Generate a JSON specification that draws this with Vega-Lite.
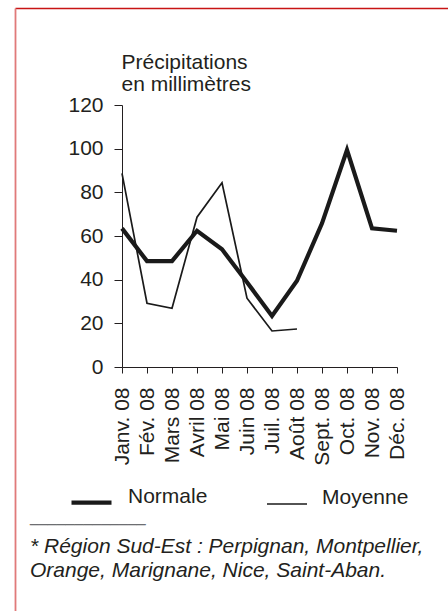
{
  "$schema": "https://vega.github.io/schema/vega-lite/v6.json",
  "width": 433,
  "height": 603,
  "autosize": {"type": "none"},
  "padding": {"left": 15, "top": 8, "right": 0, "bottom": 0},
  "background": "white",
  "config": {
    "view": {"stroke": null},
    "font": "Liberation Sans",
    "axis": {
      "domainColor": "#231f20",
      "tickColor": "#231f20",
      "labelColor": "#231f20",
      "titleColor": "#231f20",
      "labelFont": "Liberation Sans",
      "titleFont": "Liberation Sans",
      "labelFontSize": 21,
      "grid": false,
      "domainWidth": 1,
      "tickWidth": 1
    }
  },
  "datasets": {
    "pluie": [
      {"mois": "Janv. 08", "serie": "Normale", "mm": 63.5},
      {"mois": "Fév. 08", "serie": "Normale", "mm": 48.5},
      {"mois": "Mars 08", "serie": "Normale", "mm": 48.5},
      {"mois": "Avril 08", "serie": "Normale", "mm": 62.4},
      {"mois": "Mai 08", "serie": "Normale", "mm": 53.9},
      {"mois": "Juin 08", "serie": "Normale", "mm": 38.8},
      {"mois": "Juil. 08", "serie": "Normale", "mm": 23.4},
      {"mois": "Août 08", "serie": "Normale", "mm": 39.5},
      {"mois": "Sept. 08", "serie": "Normale", "mm": 65.8},
      {"mois": "Oct. 08", "serie": "Normale", "mm": 99.4},
      {"mois": "Nov. 08", "serie": "Normale", "mm": 63.5},
      {"mois": "Déc. 08", "serie": "Normale", "mm": 62.4},
      {"mois": "Janv. 08", "serie": "Moyenne", "mm": 88.7},
      {"mois": "Fév. 08", "serie": "Moyenne", "mm": 29.2},
      {"mois": "Mars 08", "serie": "Moyenne", "mm": 26.9},
      {"mois": "Avril 08", "serie": "Moyenne", "mm": 68.6},
      {"mois": "Mai 08", "serie": "Moyenne", "mm": 84.4},
      {"mois": "Juin 08", "serie": "Moyenne", "mm": 31.5},
      {"mois": "Juil. 08", "serie": "Moyenne", "mm": 16.5},
      {"mois": "Août 08", "serie": "Moyenne", "mm": 17.4}
    ],
    "notes": [
      {"note": "* Région Sud-Est : Perpignan, Montpellier,\nOrange, Marignane, Nice, Saint-Aban."}
    ],
    "filet": [
      {"trait": "_____________"}
    ],
    "cadre": [
      {"a": 0, "b": 0}
    ]
  },
  "layer": [
    {
      "layer": [
        {
          "data": {"name": "pluie"},
          "mark": {"type": "line", "color": "#1a1a1a", "strokeJoin": "miter"},
          "encoding": {
            "x": {
              "field": "mois",
              "type": "ordinal",
              "sort": null,
              "scale": {
                "type": "point",
                "domain": ["Janv. 08", "Fév. 08", "Mars 08", "Avril 08", "Mai 08", "Juin 08", "Juil. 08", "Août 08", "Sept. 08", "Oct. 08", "Nov. 08", "Déc. 08"],
                "range": [107, 382],
                "padding": 0
              },
              "axis": {
                "orient": "bottom",
                "offset": -244,
                "title": null,
                "tickSize": 6,
                "labelPadding": 14,
                "labelAngle": -90
              }
            },
            "y": {
              "field": "mm",
              "type": "quantitative",
              "scale": {"domain": [0, 120], "range": [359, 97], "nice": false, "zero": false},
              "axis": {
                "orient": "left",
                "offset": -107,
                "values": [0, 20, 40, 60, 80, 100, 120],
                "tickSize": 8,
                "labelPadding": 11,
                "title": ["Précipitations", "en millimètres"],
                "titleAngle": 0,
                "titleAlign": "left",
                "titleBaseline": "alphabetic",
                "titleFontSize": 21,
                "titleFontWeight": "normal",
                "titleLineHeight": 22,
                "titleX": -1,
                "titleY": 60
              }
            },
            "strokeWidth": {
              "field": "serie",
              "type": "nominal",
              "scale": {"type": "ordinal", "domain": ["Normale", "Moyenne"], "range": [4.2, 1.7]},
              "legend": {
                "orient": "none",
                "legendX": 54,
                "legendY": 472,
                "direction": "horizontal",
                "title": null,
                "symbolType": "stroke",
                "symbolSize": 1600,
                "symbolStrokeColor": "#1a1a1a",
                "labelFont": "Liberation Sans",
                "labelFontSize": 21,
                "labelColor": "#231f20",
                "labelOffset": 14,
                "columnPadding": 55,
                "labelBaseline": "alphabetic"
              }
            },
            "detail": {"field": "serie", "type": "nominal"}
          }
        },
        {
          "data": {"name": "filet"},
          "mark": {"type": "text", "align": "left", "baseline": "alphabetic", "dx": -92, "font": "Liberation Sans", "fontSize": 16, "color": "#6d6e71"},
          "encoding": {
            "x": {"datum": "Janv. 08", "type": "ordinal"},
            "y": {"datum": -70.8},
            "text": {"field": "trait"}
          }
        },
        {
          "data": {"name": "notes"},
          "mark": {"type": "text", "align": "left", "baseline": "alphabetic", "dx": -92, "font": "Liberation Sans", "fontStyle": "italic", "fontSize": 21, "lineBreak": "\n", "lineHeight": 24, "color": "#231f20"},
          "encoding": {
            "x": {"datum": "Janv. 08", "type": "ordinal"},
            "y": {"datum": -85.2},
            "text": {"field": "note"}
          }
        }
      ]
    },
    {
      "data": {"name": "cadre"},
      "mark": {"type": "point", "opacity": 0},
      "encoding": {
        "x": {
          "field": "a",
          "type": "quantitative",
          "scale": {"domain": [0, 1], "nice": false},
          "axis": {"orient": "top", "domainColor": "#c81414", "domainWidth": 1.6, "ticks": false, "labels": false, "title": null, "grid": false}
        },
        "y": {
          "field": "b",
          "type": "quantitative",
          "scale": {"domain": [0, 1], "nice": false},
          "axis": {"orient": "left", "domainColor": "#e07a7a", "domainWidth": 1.8, "ticks": false, "labels": false, "title": null, "grid": false}
        }
      }
    }
  ],
  "resolve": {
    "scale": {"x": "independent", "y": "independent"},
    "axis": {"x": "independent", "y": "independent"}
  }
}
